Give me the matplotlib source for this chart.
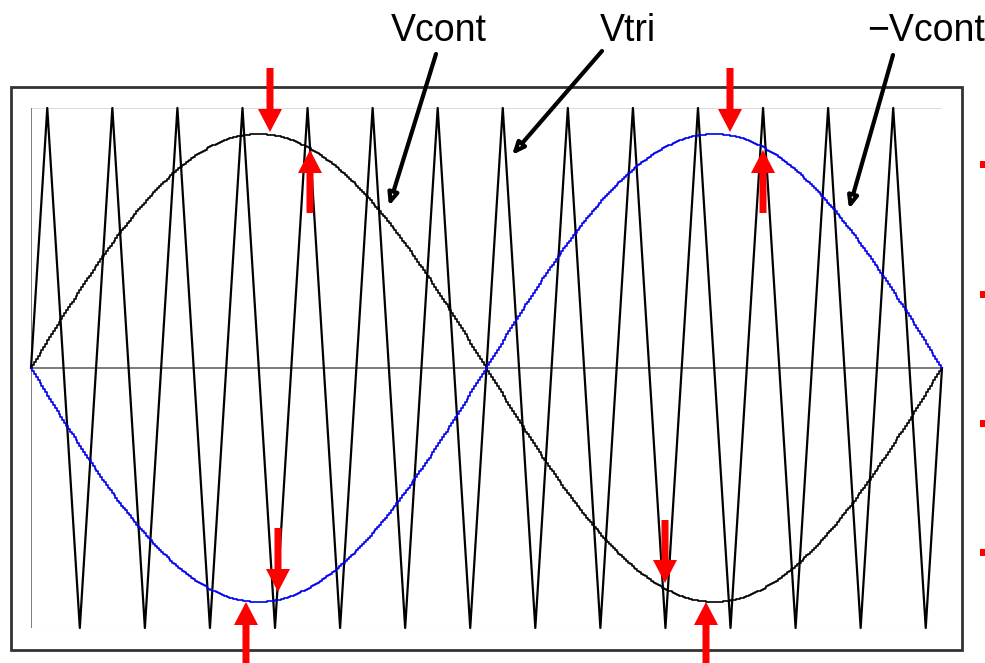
import numpy as np
import matplotlib.pyplot as plt
from matplotlib.patches import FancyArrow, Rectangle

plt.rcParams['font.family'] = ['Liberation Sans', 'DejaVu Sans']

# carrier / control settings
carrier_ratio = 14        # triangle periods per control period
mod_index = 0.9           # peak of Vcont relative to Vtri
n_steps = 480             # Vcont is drawn as a finely sampled signal

# triangle vertices: 0 -> +1 -> -1 ... -> 0 over one control period
tri_t = [0.0] + [(k + 0.25) / carrier_ratio for k in range(carrier_ratio)] \
        + [(k + 0.75) / carrier_ratio for k in range(carrier_ratio)] + [1.0]
tri_t = sorted(tri_t)
tri_v = [0.0] + [1.0 if i % 2 == 0 else -1.0 for i in range(2 * carrier_ratio)] + [0.0]

t_s = np.linspace(0, 1, n_steps + 1)
vcont = mod_index * np.sin(2 * np.pi * t_s)

labels = ['Vcont', 'Vtri', '\u2212Vcont']

W, H = 985, 663
fig = plt.figure(figsize=(W / 100, H / 100), dpi=100)

# main plot area
ax = fig.add_axes([31 / W, 1 - 628 / H, (942 - 31) / W, (628 - 108) / H])
ax.set_xlim(0, 1)
ax.set_ylim(-1, 1)
ax.axis('off')
ax.axhline(0, color='#666666', lw=1.2)
ax.axhline(1, color='#dddddd', lw=0.8)
ax.axhline(-1, color='#dddddd', lw=0.8)
ax.axvline(0, color='#666666', lw=1.2)
ax.plot(tri_t, tri_v, color='black', lw=1.6, clip_on=False)
ax.step(t_s, vcont, where='mid', color='black', lw=1.2, clip_on=False)
ax.step(t_s, -vcont, where='mid', color='#0000ee', lw=1.2, clip_on=False)

# overlay in pixel coordinates for frame, arrows and labels
ov = fig.add_axes([0, 0, 1, 1], zorder=5)
ov.set_xlim(0, W)
ov.set_ylim(H, 0)
ov.axis('off')
ov.patch.set_alpha(0)

ov.add_patch(Rectangle((11, 87), 951, 563, fill=False, ec='#333333', lw=2))

# red arrows: (x, tail_y, tip_y)
red_arrows = [(270, 68, 132), (310, 213, 150), (730, 68, 132), (763, 213, 150),
              (278, 528, 592), (246, 663, 602), (665, 520, 583), (706, 663, 602)]
for x, y0, y1 in red_arrows:
    ov.add_patch(FancyArrow(x, y0, 0, y1 - y0, width=7, head_width=24,
                            head_length=23, length_includes_head=True,
                            color='#ff0000', lw=0))

for y in [164, 294, 423, 552]:
    ov.add_patch(Rectangle((980, y - 3.5), 5, 7, color='#ff0000', lw=0))

label_x = [439, 628, 926]
for lx, txt in zip(label_x, labels):
    ov.text(lx, 41, txt, fontsize=27, ha='center', va='baseline')

black_arrows = [((436, 54), (389, 206)), ((602, 51), (512, 155)), ((893, 55), (849, 209))]
for (x0, y0), (x1, y1) in black_arrows:
    ov.annotate('', xy=(x1, y1), xytext=(x0, y0),
                arrowprops=dict(arrowstyle='-|>,head_length=0.7,head_width=0.3',
                                lw=3, ec='black', fc='white', shrinkA=0, shrinkB=0))

fig.savefig('out.png', dpi=100)
